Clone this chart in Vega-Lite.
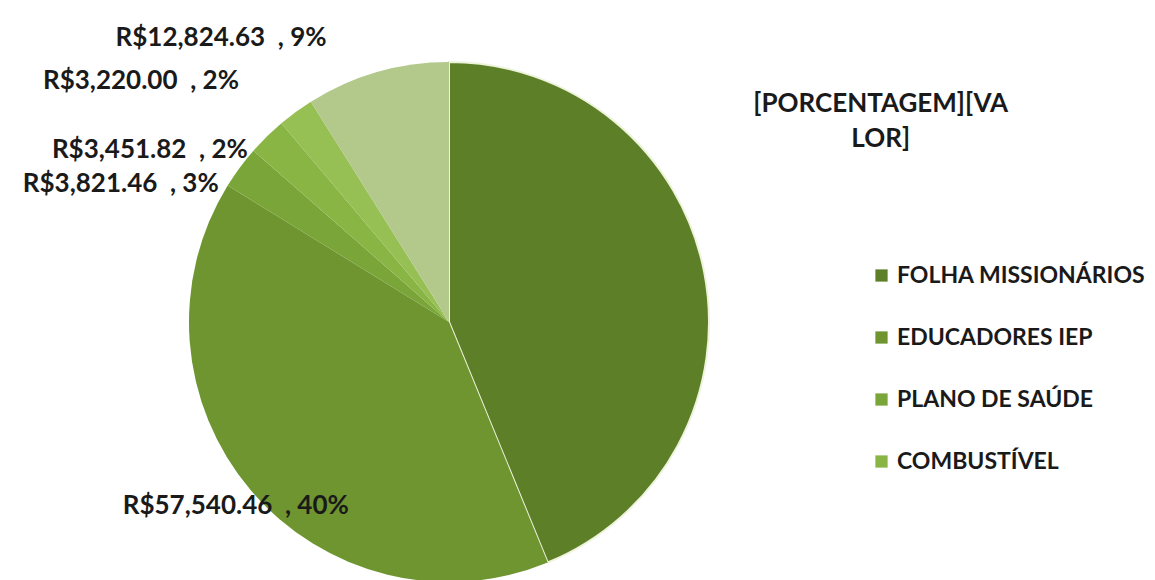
{
  "$schema": "https://vega.github.io/schema/vega-lite/v6.json",
  "width": 898,
  "height": 516,
  "autosize": {"type": "none"},
  "padding": {"left": 0, "top": 64, "right": 257, "bottom": 0},
  "background": "white",
  "config": {"view": {"stroke": null}},
  "data": {
    "values": [
      {"idx": 1, "cat": "FOLHA MISSIONÁRIOS", "value": 63018.00, "label": "[PORCENTAGEM][VA\nLOR]"},
      {"idx": 2, "cat": "EDUCADORES IEP", "value": 57540.46, "label": "R$57,540.46\u00a0 , 40%"},
      {"idx": 3, "cat": "PLANO DE SAÚDE", "value": 3821.46, "label": "R$3,821.46\u00a0 , 3%"},
      {"idx": 4, "cat": "COMBUSTÍVEL", "value": 3451.82, "label": "R$3,451.82\u00a0 , 2%"},
      {"idx": 5, "cat": "MANUTENÇÃO", "value": 3220.00, "label": "R$3,220.00\u00a0 , 2%"},
      {"idx": 6, "cat": "OUTROS", "value": 12824.63, "label": "R$12,824.63\u00a0 , 9%"}
    ]
  },
  "encoding": {
    "theta": {"field": "value", "type": "quantitative", "stack": true},
    "order": {"field": "idx", "type": "quantitative"}
  },
  "layer": [
    {
      "mark": {"type": "arc", "outerRadius": 260, "stroke": "#eef4dc"},
      "encoding": {
        "color": {
          "field": "cat",
          "type": "nominal",
          "scale": {
            "domain": ["FOLHA MISSIONÁRIOS", "EDUCADORES IEP", "PLANO DE SAÚDE", "COMBUSTÍVEL", "MANUTENÇÃO", "OUTROS"],
            "range": ["#5d7f28", "#6e9530", "#7aa538", "#89b545", "#97c054", "#b2c98b"]
          },
          "legend": {
            "values": ["FOLHA MISSIONÁRIOS", "EDUCADORES IEP", "PLANO DE SAÚDE", "COMBUSTÍVEL"],
            "title": null,
            "orient": "none",
            "legendX": 870,
            "legendY": 200,
            "padding": 0,
            "symbolType": "square",
            "symbolSize": 150,
            "symbolStrokeWidth": 0,
            "labelFont": "Lato",
            "labelFontWeight": "bold",
            "labelFontSize": 23,
            "labelColor": "#1a1a1a",
            "labelOffset": 4,
            "labelLimit": 400,
            "rowPadding": 38
          }
        },
        "strokeWidth": {
          "condition": {"test": "datum.idx == 1", "value": 2},
          "value": 0
        }
      }
    },
    {
      "mark": {"type": "text", "radius": 280, "align": "right", "baseline": "middle", "dx": -45, "dy": -15, "font": "Lato", "fontWeight": "bold", "fontSize": 26, "color": "#1a1a1a"},
      "encoding": {
        "text": {"condition": {"test": "datum.idx >= 5", "field": "label"}, "value": ""}
      }
    },
    {
      "mark": {"type": "text", "radius": 280, "align": "right", "baseline": "middle", "dx": -5, "dy": 28, "font": "Lato", "fontWeight": "bold", "fontSize": 26, "color": "#1a1a1a"},
      "encoding": {
        "text": {"condition": {"test": "datum.idx == 3 || datum.idx == 4", "field": "label"}, "value": ""}
      }
    },
    {
      "mark": {"type": "text", "radius": 285, "align": "center", "baseline": "middle", "dx": 4, "font": "Lato", "fontWeight": "bold", "fontSize": 26, "color": "#1a1a1a"},
      "encoding": {
        "text": {"condition": {"test": "datum.idx == 2", "field": "label"}, "value": ""}
      }
    },
    {
      "mark": {"type": "text", "radius": 440, "align": "center", "baseline": "middle", "dx": 0, "dy": -133, "lineBreak": "\n", "lineHeight": 35, "font": "Lato", "fontWeight": "bold", "fontSize": 26, "color": "#1a1a1a"},
      "encoding": {
        "text": {"condition": {"test": "datum.idx == 1", "field": "label"}, "value": ""}
      }
    }
  ]
}
